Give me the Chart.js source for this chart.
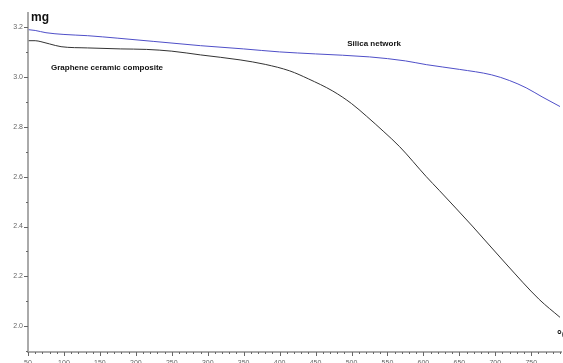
<!DOCTYPE html>
<html>
<head>
<meta charset="utf-8">
<script src="https://cdn.jsdelivr.net/npm/chart.js@4/dist/chart.umd.min.js"></script>
<style>
  html, body { margin: 0; padding: 0; background: #fff; }
  #wrap { width: 563px; height: 363px; }
</style>
</head>
<body>
<div id="wrap"><canvas id="tga"></canvas></div>
<script>
// temperature (°C) and mass (mg)
const silicaTemp = [51, 60, 75, 100, 133, 175, 225, 290, 350, 400, 450, 525, 575, 604, 650, 695, 720, 743, 765, 790];
const silicaMass = [3.189, 3.186, 3.177, 3.170, 3.165, 3.155, 3.142, 3.125, 3.112, 3.100, 3.092, 3.080, 3.064, 3.049, 3.030, 3.008, 2.985, 2.956, 2.920, 2.881];

const grapheneTemp = [51, 60, 68, 80, 96, 133, 179, 215, 250, 290, 345, 380, 414, 440, 474, 500, 521, 545, 567, 604, 622, 668, 715, 761, 790];
const grapheneMass = [3.145, 3.145, 3.141, 3.132, 3.121, 3.116, 3.112, 3.110, 3.103, 3.088, 3.068, 3.050, 3.024, 2.992, 2.943, 2.893, 2.842, 2.780, 2.720, 2.600, 2.545, 2.402, 2.250, 2.108, 2.036];

const seriesNames = ['Silica network', 'Graphene ceramic composite'];
const xMin = 50, xMax = 792;
const yMin = 1.897, yMax = 3.256;

function toPoints(xs, ys) {
    return xs.map((x, i) => ({ x: x, y: ys[i] }));
}

// short minor ticks, longer major ticks, drawn on the library's scales
const tickMarks = {
    id: 'tickMarks',
    afterDraw(chart) {
        const ctx = chart.ctx;
        const xs = chart.scales.x, ys = chart.scales.y;
        ctx.save();
        ctx.strokeStyle = '#666';
        ctx.lineWidth = 1;
        xs.ticks.forEach(t => {
            const px = Math.round(xs.getPixelForValue(t.value)) + 0.5;
            const len = t.value % 50 === 0 ? 4 : 2;
            ctx.beginPath();
            ctx.moveTo(px, xs.top);
            ctx.lineTo(px, xs.top + len);
            ctx.stroke();
        });
        ys.ticks.forEach(t => {
            const py = Math.round(ys.getPixelForValue(t.value)) + 0.5;
            const len = Math.round(t.value * 10) % 2 === 0 ? 4 : 2;
            ctx.beginPath();
            ctx.moveTo(ys.right, py);
            ctx.lineTo(ys.right - len, py);
            ctx.stroke();
        });

        // axis units and curve labels
        ctx.fillStyle = '#111';
        ctx.textBaseline = 'middle';
        ctx.textAlign = 'left';
        ctx.font = 'bold 12px "Liberation Sans", Arial, sans-serif';
        ctx.fillText('mg', chart.chartArea.left + 3, 18);
        ctx.fillText('°C', 557, 336);

        ctx.font = 'bold 8px "Liberation Sans", Arial, sans-serif';
        ctx.fillText(seriesNames[0], xs.getPixelForValue(494), ys.getPixelForValue(3.132));
        ctx.fillText(seriesNames[1], xs.getPixelForValue(82), ys.getPixelForValue(3.036));
        ctx.restore();
    }
};

new Chart(document.getElementById('tga'), {
    type: 'line',
    data: {
        datasets: [{
            label: seriesNames[0],
            data: toPoints(silicaTemp, silicaMass),
            borderColor: '#4f4fc8',
            borderWidth: 1,
            pointRadius: 0,
            cubicInterpolationMode: 'monotone'
        }, {
            label: seriesNames[1],
            data: toPoints(grapheneTemp, grapheneMass),
            borderColor: '#333333',
            borderWidth: 1,
            pointRadius: 0,
            cubicInterpolationMode: 'monotone'
        }]
    },
    options: {
        responsive: true,
        maintainAspectRatio: false,
        animation: false,
        layout: { padding: { top: 13, left: 0, right: 0, bottom: 0 } },
        plugins: { legend: { display: false }, tooltip: { enabled: false } },
        scales: {
            x: {
                type: 'linear',
                min: xMin,
                max: xMax,
                afterBuildTicks(scale) {
                    const ticks = [];
                    for (let v = 50; v <= 790; v += 10) ticks.push({ value: v });
                    scale.ticks = ticks;
                },
                afterFit(scale) { scale.height = 11; },
                grid: { display: false, drawTicks: true, tickLength: 4 },
                border: { display: true, color: '#aaa', width: 2 },
                ticks: {
                    autoSkip: false,
                    maxRotation: 0,
                    padding: 3,
                    color: '#666',
                    font: { size: 7, family: '"Liberation Sans", Arial, sans-serif' },
                    callback: v => (v % 50 === 0 ? String(v) : '')
                }
            },
            y: {
                type: 'linear',
                min: yMin,
                max: yMax,
                afterBuildTicks(scale) {
                    const ticks = [];
                    for (let v = 19; v <= 32; v++) ticks.push({ value: v / 10 });
                    scale.ticks = ticks;
                },
                afterFit(scale) { scale.width = 28; },
                grid: { display: false, drawTicks: true, tickLength: 4 },
                border: { display: true, color: '#aaa', width: 2 },
                ticks: {
                    autoSkip: false,
                    padding: 1,
                    color: '#666',
                    font: { size: 7, family: '"Liberation Sans", Arial, sans-serif' },
                    callback: v => (Math.round(v * 10) % 2 === 0 ? v.toFixed(1) : '')
                }
            }
        }
    },
    plugins: [tickMarks]
});
</script>
</body>
</html>
